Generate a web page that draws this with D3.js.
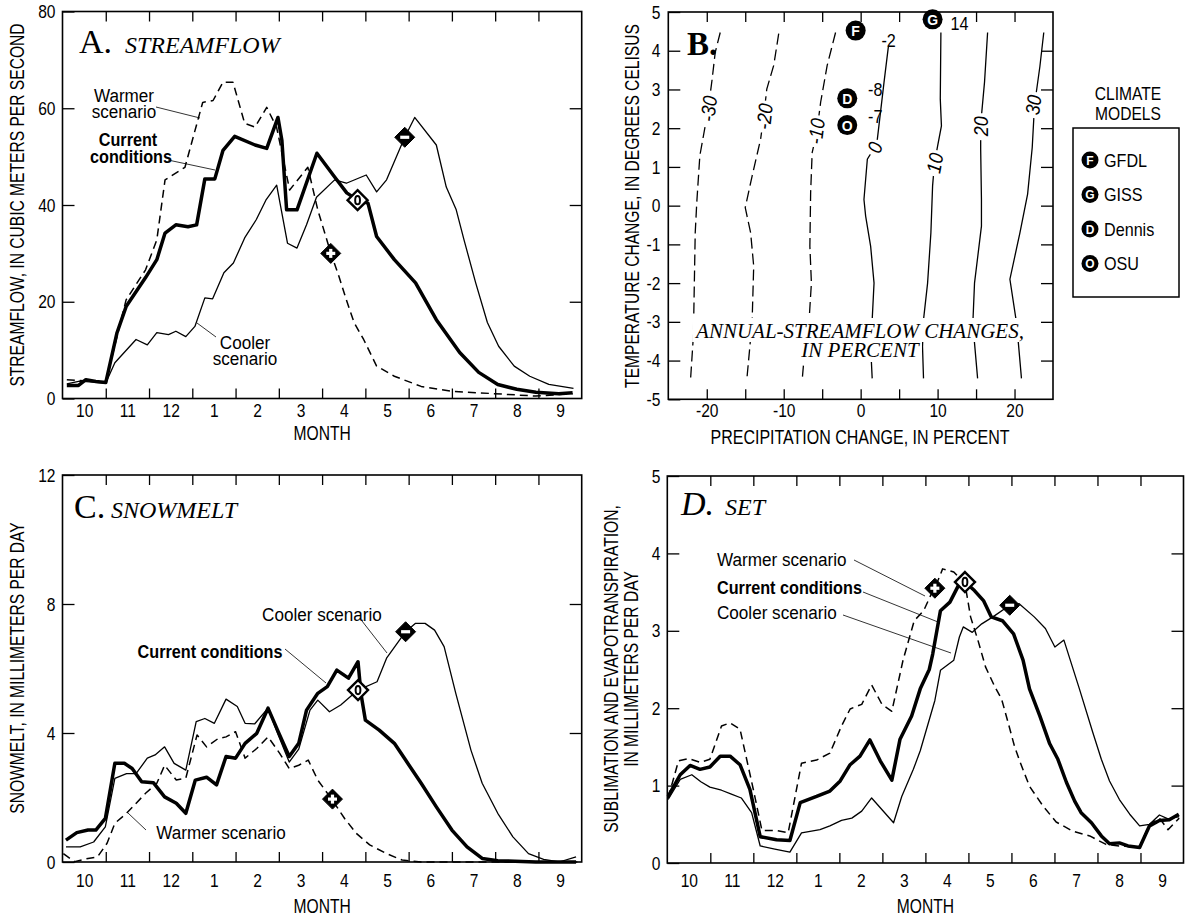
<!DOCTYPE html>
<html><head><meta charset="utf-8">
<script src="https://cdn.jsdelivr.net/npm/d3@7"></script>
<style>
body{margin:0;background:#fff}
svg{display:block;background:#fff}
</style></head><body>
<svg id="c" width="1185" height="916"></svg>
<script>
// ================= DATA =================
const monthLabels = ['10','11','12','1','2','3','4','5','6','7','8','9'];
const monthBounds = [1,2,3,4,5,6,7,8,9,10,11];
const monthCenters = [0.5,1.5,2.5,3.5,4.5,5.5,6.5,7.5,8.5,9.5,10.5,11.5];

// Panel A: streamflow (m3/s), [month from Oct 1, value]
const streamCurrent = [[0.1,2.7],[0.37,2.7],[0.54,3.9],[0.77,3.5],[1.0,3.3],[1.26,13.6],[1.47,19],[1.92,25],[2.18,28.7],[2.37,34.2],[2.62,35.9],[2.9,35.5],[3.1,35.9],[3.29,45.4],[3.52,45.4],[3.71,51.3],[3.98,54.2],[4.45,52.4],[4.72,51.7],[4.98,58.1],[5.07,53.4],[5.18,39],[5.42,39],[5.88,50.7],[6.29,45.8],[6.57,42.5],[6.82,41],[7.06,40.4],[7.26,33.5],[7.67,28.7],[8.16,23.9],[8.64,16.3],[9.18,9.5],[9.62,5.4],[10.06,2.9],[10.5,1.9],[10.94,1.3],[11.47,1.0],[11.79,1.2]];
const streamWarmer = [[0.1,3.9],[0.59,3.6],[1.0,3.4],[1.47,20.4],[1.92,26.6],[2.18,32.8],[2.37,45.2],[2.83,47.8],[3.24,61.2],[3.48,61.6],[3.71,65.4],[3.94,65.4],[4.21,56.9],[4.45,56.1],[4.72,60.2],[4.95,56],[5.25,43.1],[5.67,47.8],[5.9,39],[6.2,30.1],[6.39,25.2],[6.56,20.4],[6.74,15.7],[6.96,12.2],[7.26,6.7],[7.67,4.6],[8.29,2.5],[9.0,1.5],[9.97,1.0],[10.94,0.5],[11.79,1.0]];
const streamCooler = [[0.1,3.0],[0.4,3.6],[0.7,3.4],[1.0,3.2],[1.21,7.4],[1.7,12.2],[1.96,11.1],[2.18,13.6],[2.45,13.2],[2.62,13.9],[2.85,12.8],[3.06,14.9],[3.29,20.8],[3.47,20.6],[3.73,26],[3.95,28],[4.21,33.2],[4.48,37],[4.7,41],[4.95,44.1],[5.2,32.1],[5.42,31.1],[5.64,35.9],[5.87,41.6],[6.29,45.2],[6.56,44.5],[7.02,46.2],[7.26,42.7],[7.49,45.2],[7.91,54],[8.14,58.1],[8.64,52.4],[8.87,43.7],[9.1,39],[9.28,32.8],[9.55,23.9],[9.82,15.7],[10.08,10.8],[10.44,6.7],[10.8,4.6],[11.24,2.9],[11.81,2.1]];
const streamMarkers = [['-',7.91,54],['O',6.82,41],['+',6.2,30]];

// Panel C: snowmelt (mm/day)
const snowCurrent = [[0.08,0.68],[0.33,0.91],[0.59,0.99],[0.77,0.99],[0.99,1.35],[1.21,3.06],[1.43,3.06],[1.61,2.9],[1.83,2.49],[2.1,2.46],[2.36,2.02],[2.63,1.82],[2.85,1.51],[3.07,2.54],[3.33,2.63],[3.56,2.39],[3.78,3.27],[4.0,3.22],[4.22,3.68],[4.49,3.99],[4.75,4.77],[4.97,4.09],[5.24,3.27],[5.46,3.68],[5.64,4.71],[5.9,5.23],[6.12,5.44],[6.34,5.95],[6.61,5.7],[6.83,6.21],[6.9,5.2],[7.0,4.4],[7.32,4.09],[7.67,3.68],[7.93,3.16],[8.29,2.44],[8.64,1.71],[9.0,0.99],[9.35,0.47],[9.7,0.11],[10.06,0.04],[10.94,0.0],[11.87,0.0]];
const snowCooler = [[0.08,0.47],[0.41,0.47],[0.72,0.62],[0.99,1.09],[1.21,2.59],[1.48,2.74],[1.7,2.74],[1.96,3.22],[2.14,3.32],[2.36,3.57],[2.58,3.06],[2.85,2.85],[3.09,4.35],[3.29,4.45],[3.51,4.3],[3.78,5.05],[4.04,4.82],[4.22,4.3],[4.44,4.28],[4.75,4.77],[4.97,3.99],[5.24,3.1],[5.46,3.5],[5.72,4.71],[5.9,5.02],[6.17,4.66],[6.43,4.87],[6.83,5.33],[7.27,5.59],[7.49,6.32],[7.93,7.14],[8.16,7.4],[8.38,7.4],[8.6,7.19],[8.82,6.68],[9.09,5.23],[9.44,3.47],[9.7,2.44],[10.06,1.51],[10.41,0.78],[10.77,0.26],[11.12,0.08],[11.48,0.0],[11.87,0.16]];
const snowWarmer = [[0.02,0.26],[0.28,0.01],[0.59,0.11],[0.81,0.16],[1.03,0.58],[1.21,1.2],[1.48,1.51],[1.92,2.13],[2.18,2.44],[2.36,3.0],[2.63,2.54],[2.85,2.6],[3.11,3.94],[3.33,3.57],[3.6,3.83],[3.78,3.88],[4.0,4.04],[4.22,3.22],[4.49,3.52],[4.75,3.88],[5.02,3.37],[5.24,2.9],[5.46,3.0],[5.68,3.16],[5.9,2.54],[6.21,1.97],[6.52,1.35],[6.79,0.89],[7.1,0.53],[7.49,0.26],[7.85,0.06],[8.29,0.0],[11.9,0.0]];
const snowMarkers = [['+',6.24,1.95],['O',6.83,5.33],['-',7.93,7.14]];

// Panel D: sublimation + evapotranspiration (mm/day)
const setCurrent = [[0.02,0.86],[0.3,1.14],[0.53,1.26],[0.76,1.21],[0.99,1.24],[1.23,1.38],[1.46,1.38],[1.69,1.27],[1.92,0.95],[2.16,0.34],[2.54,0.3],[2.85,0.29],[3.09,0.78],[3.47,0.86],[3.78,0.93],[4.02,1.06],[4.25,1.27],[4.48,1.38],[4.71,1.59],[4.95,1.32],[5.22,1.07],[5.41,1.6],[5.68,1.9],[5.88,2.25],[6.09,2.5],[6.17,2.7],[6.35,3.26],[6.57,3.37],[6.79,3.61],[6.92,3.63],[7.14,3.52],[7.35,3.39],[7.53,3.18],[7.79,3.13],[8.05,2.96],[8.27,2.62],[8.42,2.25],[8.66,1.9],[8.89,1.54],[9.08,1.34],[9.28,1.04],[9.47,0.8],[9.62,0.65],[9.86,0.52],[10.09,0.35],[10.28,0.25],[10.51,0.26],[10.71,0.22],[10.98,0.2],[11.21,0.48],[11.44,0.55],[11.67,0.56],[11.89,0.63]];
const setWarmer = [[0.02,0.84],[0.26,1.32],[0.49,1.35],[0.76,1.3],[0.99,1.34],[1.26,1.77],[1.46,1.81],[1.69,1.73],[2.0,0.95],[2.2,0.42],[2.54,0.42],[2.81,0.39],[3.12,1.29],[3.47,1.33],[3.78,1.42],[4.05,1.77],[4.25,1.99],[4.52,2.05],[4.75,2.3],[4.99,2.05],[5.22,1.96],[5.48,2.62],[5.74,3.13],[5.96,3.26],[6.14,3.48],[6.22,3.55],[6.4,3.8],[6.66,3.76],[6.92,3.61],[7.05,3.18],[7.22,2.88],[7.4,2.53],[7.62,2.27],[7.77,2.12],[7.92,1.82],[8.07,1.51],[8.19,1.32],[8.42,0.99],[8.73,0.74],[9.04,0.53],[9.43,0.41],[9.82,0.35],[10.2,0.24],[10.51,0.22],[10.98,0.21],[11.21,0.5],[11.44,0.58],[11.64,0.43],[11.9,0.58]];
const setCooler = [[0.02,0.82],[0.3,1.08],[0.57,1.14],[0.78,1.05],[0.99,0.98],[1.26,0.94],[1.49,0.89],[1.72,0.84],[1.96,0.65],[2.16,0.22],[2.5,0.18],[2.85,0.14],[3.12,0.39],[3.55,0.43],[3.78,0.48],[4.05,0.55],[4.29,0.58],[4.52,0.67],[4.75,0.84],[5.26,0.52],[5.45,0.86],[5.72,1.21],[5.88,1.45],[6.22,2.1],[6.35,2.49],[6.66,2.62],[6.79,2.92],[6.88,3.05],[7.09,2.98],[7.31,3.09],[7.57,3.18],[7.96,3.33],[8.18,3.35],[8.53,3.18],[8.79,3.03],[9.01,2.79],[9.22,2.88],[9.58,2.25],[9.89,1.69],[10.09,1.34],[10.28,1.06],[10.51,0.82],[10.75,0.63],[10.98,0.48],[11.21,0.5],[11.44,0.62],[11.64,0.57],[11.9,0.6]];
const setMarkers = [['+',6.22,3.55],['O',6.92,3.63],['-',7.96,3.33]];

// Panel B: annual-streamflow change contours, [precip change %, temp change C]
const contourLevels = [-30,-20,-10,0,10,20,30];
const contourM30 = [[-18.25,4.47],[-18.9,3.96],[-19.3,3.27],[-19.8,2.5],[-20.9,1.29],[-21.3,0.08],[-21.5,-0.7],[-21.7,-2.95],[-21.8,-3.55],[-22.1,-4.46]];
const contourM20 = [[-10.65,4.44],[-11.3,3.62],[-12.2,3.01],[-12.6,2.3],[-13.0,1.72],[-14.1,0.77],[-15.0,-0.05],[-14.3,-0.7],[-13.9,-1.56],[-14.1,-2.95],[-14.4,-3.64],[-14.8,-4.5]];
const contourM10 = [[-3.26,4.47],[-4.35,3.62],[-5.2,2.67],[-5.7,1.9],[-6.3,1.37],[-6.5,0.34],[-6.6,-1.05],[-6.4,-2.0],[-6.7,-2.95],[-7.3,-3.81],[-7.6,-4.5]];
const contour0 = [[3.6,4.1],[3.04,3.19],[2.17,1.72],[1.8,1.5],[0.87,1.2],[0.43,0.16],[0.65,-0.27],[1.3,-1.05],[1.74,-2.0],[1.5,-2.95],[1.3,-3.64],[1.5,-4.46]];
const contour10 = [[10.43,4.47],[10.35,2.75],[10.5,2.06],[10.0,1.54],[9.6,1.1],[9.35,0.51],[9.13,-0.7],[8.7,-2.0],[8.17,-2.95],[8.04,-3.64],[8.17,-4.46]];
const contour20 = [[16.5,4.47],[16.1,3.19],[15.6,2.1],[15.6,1.46],[15.7,0.16],[15.7,-0.53],[14.8,-2.0],[14.6,-2.95],[14.8,-3.55],[15.2,-4.46]];
const contour30 = [[23.8,4.47],[23.3,3.6],[22.6,2.6],[22.3,1.5],[21.7,0.3],[20.7,-0.7],[19.4,-1.9],[20.2,-2.95],[20.5,-3.55],[20.9,-4.46]];
const contourLines = [contourM30,contourM20,contourM10,contour0,contour10,contour20,contour30];
const contourLabelAt = [[-19.75,2.5],[-12.5,2.3],[-5.75,1.92],[1.85,1.5],[9.65,1.1],[15.6,2.05],[22.45,2.6]];
const precipTicks = [-20,-15,-10,-5,0,5,10,15,20];
const tempTicks = [-5,-4,-3,-2,-1,0,1,2,3,4,5];

const modelLetters = ['F','G','D','O'];
const modelNames = ['GFDL','GISS','Dennis','OSU'];
const modelPrecip = [-0.65,9.35,-1.74,-1.74];
const modelTemp = [4.52,4.81,2.77,2.08];
const modelFlowChange = ['-2','14','-8','-7'];

// ================= DRAWING =================
const SANS = "'Liberation Sans', Arial, Helvetica, sans-serif";
const SERIF = "'Liberation Serif', 'Times New Roman', serif";
const svg = d3.select('#c');

function condense(sel, f){
  sel.each(function(){
    const w = this.getComputedTextLength();
    if (w > 0){ this.setAttribute('textLength', (w*f).toFixed(2)); this.setAttribute('lengthAdjust','spacingAndGlyphs'); }
  });
}
function styleAxis(s, fs){
  s.select('.domain').remove();
  s.attr('font-family', null).attr('font-size', null);
  s.selectAll('line').attr('stroke','#000').attr('stroke-width',1.3);
  s.selectAll('text').attr('font-family',SANS).attr('font-size',fs||19).attr('fill','#000');
  condense(s.selectAll('text'), 0.82);
}
function sText(g, str, x, y, o){
  o = o || {};
  const t = g.append('text').attr('x',x).attr('y',y).text(str)
    .attr('font-family', o.serif ? SERIF : SANS)
    .attr('font-size', o.fs || 19)
    .attr('font-weight', o.bold ? 'bold' : 'normal')
    .attr('font-style', o.italic ? 'italic' : 'normal')
    .attr('text-anchor', o.anchor || 'start')
    .attr('fill','#000');
  if (o.rot) t.attr('transform', `rotate(${o.rot},${x},${y})`);
  if (o.db) t.attr('dominant-baseline', o.db);
  if (o.cond) condense(t, o.cond);
  return t;
}
function leader(g, x1,y1,x2,y2){
  g.append('line').attr('x1',x1).attr('y1',y1).attr('x2',x2).attr('y2',y2).attr('stroke','#000').attr('stroke-width',0.8);
}

function timePanel(o){
  const g = svg.append('g');
  const x = d3.scaleLinear().domain([0,12]).range([o.x0,o.x1]);
  const y = d3.scaleLinear().domain([0,o.ymax]).range([o.y0,o.y1]);
  g.append('g').attr('transform',`translate(0,${o.y0})`)
    .call(d3.axisBottom(x).tickValues(monthBounds).tickSize(-10).tickFormat('')).call(s=>styleAxis(s));
  g.append('g').attr('transform',`translate(0,${o.y1})`)
    .call(d3.axisTop(x).tickValues(monthBounds).tickSize(-10).tickFormat('')).call(s=>styleAxis(s));
  g.append('g').attr('transform',`translate(0,${o.y0})`)
    .call(d3.axisBottom(x).tickValues(monthCenters).tickSize(0).tickPadding(o.labPad).tickFormat((d,i)=>monthLabels[i])).call(s=>styleAxis(s));
  g.append('g').attr('transform',`translate(${o.x0},0)`)
    .call(d3.axisLeft(y).tickValues(o.yticks).tickSize(-12).tickPadding(7).tickFormat(d=>String(d))).call(s=>styleAxis(s));
  g.append('g').attr('transform',`translate(${o.x1},0)`)
    .call(d3.axisRight(y).tickValues(o.yticks.slice(1,-1)).tickSize(-12).tickFormat('')).call(s=>styleAxis(s));
  g.append('rect').attr('x',o.x0).attr('y',o.y1).attr('width',o.x1-o.x0).attr('height',o.y0-o.y1)
    .attr('fill','none').attr('stroke','#000').attr('stroke-width',1.6);
  sText(g,'MONTH',(o.x0+o.x1)/2,o.monthY,{anchor:'middle',fs:20,cond:0.78});
  return {g,x,y};
}
function series(p, data, kind){
  const line = d3.line().x(d=>p.x(d[0])).y(d=>p.y(d[1]));
  p.g.append('path').datum(data).attr('d',line).attr('fill','none').attr('stroke','#000')
    .attr('stroke-width', kind==='current'?3.5:(kind==='cooler'?1.3:1.5))
    .attr('stroke-dasharray', kind==='warmer'?'8,5':null)
    .attr('stroke-linejoin','round');
}
function marker(g, cx, cy, type){
  const s = 10;
  const m = g.append('g').attr('transform',`translate(${cx},${cy})`);
  const d = `M0,${-s}L${s},0L0,${s}L${-s},0Z`;
  if (type === 'O'){
    m.append('path').attr('d',d).attr('fill','#fff').attr('stroke','#000').attr('stroke-width',2.4);
    m.append('ellipse').attr('rx',2.4).attr('ry',4.2).attr('fill','none').attr('stroke','#000').attr('stroke-width',2);
  } else {
    m.append('path').attr('d',d).attr('fill','#000').attr('stroke','#000').attr('stroke-width',1);
    m.append('rect').attr('x',-4.5).attr('y',-1.6).attr('width',9).attr('height',3.2).attr('fill','#fff');
    if (type === '+') m.append('rect').attr('x',-1.6).attr('y',-4.5).attr('width',3.2).attr('height',9).attr('fill','#fff');
  }
}
function markers(p, list){ list.forEach(d=>marker(p.g, p.x(d[1]), p.y(d[2]), d[0])); }

// ---------- Panel A ----------
const pA = timePanel({x0:62.5,x1:581.7,y0:398.5,y1:11.5,ymax:80,yticks:[0,20,40,60,80],labPad:5,monthY:440});
series(pA, streamCooler, 'cooler');
series(pA, streamWarmer, 'warmer');
series(pA, streamCurrent, 'current');
markers(pA, streamMarkers);
sText(pA.g,'STREAMFLOW, IN CUBIC METERS PER SECOND',17,205,{rot:-90,anchor:'middle',db:'central',fs:20,cond:0.78});
sText(pA.g,'A.',79,53,{serif:true,fs:34});
sText(pA.g,'STREAMFLOW',125,53,{serif:true,italic:true,fs:24});
sText(pA.g,'Warmer',124,102,{anchor:'middle',fs:18,cond:0.95});
sText(pA.g,'scenario',124,118,{anchor:'middle',fs:18,cond:0.95});
leader(pA.g,156,107,200,118);
sText(pA.g,'Current',128,146,{anchor:'middle',fs:18,bold:true,cond:0.9});
sText(pA.g,'conditions',131,163,{anchor:'middle',fs:18,bold:true,cond:0.9});
leader(pA.g,168,160,215,170);
sText(pA.g,'Cooler',245,349,{anchor:'middle',fs:18,cond:0.95});
sText(pA.g,'scenario',245,365,{anchor:'middle',fs:18,cond:0.95});
leader(pA.g,216,337,197,323);

// ---------- Panel C ----------
const pC = timePanel({x0:62.5,x1:581.7,y0:862,y1:475,ymax:12,yticks:[0,4,8,12],labPad:11.5,monthY:913});
series(pC, snowCooler, 'cooler');
series(pC, snowWarmer, 'warmer');
series(pC, snowCurrent, 'current');
markers(pC, snowMarkers);
sText(pC.g,'SNOWMELT, IN MILLIMETERS PER DAY',17,668,{rot:-90,anchor:'middle',db:'central',fs:20,cond:0.78});
sText(pC.g,'C.',74,518,{serif:true,fs:34});
sText(pC.g,'SNOWMELT',111,518,{serif:true,italic:true,fs:24});
sText(pC.g,'Cooler scenario',322,621,{anchor:'middle',fs:18,cond:0.95});
leader(pC.g,362,621,387,653);
sText(pC.g,'Current conditions',210,658,{anchor:'middle',fs:18,bold:true,cond:0.9});
leader(pC.g,285,649,326,683);
sText(pC.g,'Warmer scenario',221,839,{anchor:'middle',fs:18,cond:0.95});
leader(pC.g,146,830,128,813);

// ---------- Panel D ----------
const pD = timePanel({x0:667.3,x1:1183.5,y0:863,y1:476,ymax:5,yticks:[0,1,2,3,4,5],labPad:11,monthY:913});
series(pD, setCooler, 'cooler');
series(pD, setWarmer, 'warmer');
series(pD, setCurrent, 'current');
markers(pD, setMarkers);
sText(pD.g,'SUBLIMATION AND EVAPOTRANSPIRATION,',611,669,{rot:-90,anchor:'middle',db:'central',fs:20,cond:0.78});
sText(pD.g,'IN MILLIMETERS PER DAY',631,669,{rot:-90,anchor:'middle',db:'central',fs:20,cond:0.78});
sText(pD.g,'D.',681,515,{serif:true,italic:true,fs:34});
sText(pD.g,'SET',725,515,{serif:true,italic:true,fs:24});
sText(pD.g,'Warmer scenario',717,566,{fs:18,cond:0.95});
leader(pD.g,854,560,925,596);
sText(pD.g,'Current conditions',717,594,{fs:18,bold:true,cond:0.9});
leader(pD.g,863,592,938,622);
sText(pD.g,'Cooler scenario',717,619,{fs:18,cond:0.95});
leader(pD.g,843,615,951,653);

// ---------- Panel B ----------
const gB = svg.append('g');
const B = {x0:668.3,x1:1053,y0:399.3,y1:12};
const xb = d3.scaleLinear().domain([-25,25]).range([B.x0,B.x1]);
const yb = d3.scaleLinear().domain([-5,5]).range([B.y0,B.y1]);
gB.append('g').attr('transform',`translate(0,${B.y0})`)
  .call(d3.axisBottom(xb).tickValues(precipTicks).tickSize(-10).tickPadding(4).tickFormat(d=>d%10===0?String(d):'')).call(s=>styleAxis(s));
gB.append('g').attr('transform',`translate(0,${B.y1})`)
  .call(d3.axisTop(xb).tickValues(precipTicks).tickSize(-10).tickFormat('')).call(s=>styleAxis(s));
gB.append('g').attr('transform',`translate(${B.x0},0)`)
  .call(d3.axisLeft(yb).tickValues(tempTicks).tickSize(-12).tickPadding(8).tickFormat(d=>String(d))).call(s=>styleAxis(s));
gB.append('g').attr('transform',`translate(${B.x1},0)`)
  .call(d3.axisRight(yb).tickValues(tempTicks.slice(1,-1)).tickSize(-12).tickFormat('')).call(s=>styleAxis(s));

const lineB = d3.line().x(d=>xb(d[0])).y(d=>yb(d[1]));
contourLines.forEach((pts,i)=>{
  gB.append('path').datum(pts).attr('d',lineB).attr('fill','none').attr('stroke','#000')
    .attr('stroke-width',1.3).attr('stroke-dasharray', contourLevels[i]<0 ? '11,5' : null);
});
// contour labels (line broken under the label)
contourLevels.forEach((lev,i)=>{
  const pts = contourLines[i], at = contourLabelAt[i];
  let k = 0; while (k < pts.length-2 && pts[k+1][1] > at[1]) k++;
  const top = pts[k], bot = pts[k+1];
  const ang = Math.atan2(yb(top[1])-yb(bot[1]), xb(top[0])-xb(bot[0]))*180/Math.PI;
  const lg = gB.append('g').attr('transform',`translate(${xb(at[0])},${yb(at[1])}) rotate(${ang})`);
  const bg = lg.append('rect').attr('fill','#fff');
  const t = lg.append('text').text(String(lev)).attr('font-family',SANS).attr('font-style','italic')
    .attr('font-size',20).attr('text-anchor','middle').attr('dominant-baseline','central').attr('fill','#000');
  condense(t,0.9);
  const bb = t.node().getBBox();
  bg.attr('x',bb.x-3).attr('y',bb.y+2).attr('width',bb.width+6).attr('height',bb.height-4);
});
// inner caption
const cap1 = sText(gB,'ANNUAL-STREAMFLOW CHANGES,',860,338,{serif:true,italic:true,fs:21,anchor:'middle'});
const cap2 = sText(gB,'IN PERCENT',860,357,{serif:true,italic:true,fs:21,anchor:'middle'});
[cap1,cap2].forEach(c=>{
  const bb = c.node().getBBox();
  gB.insert('rect',()=>c.node()).attr('x',bb.x-2).attr('y',bb.y+(c===cap1?-1:4)).attr('width',bb.width+4).attr('height',bb.height-(c===cap1?0:4)).attr('fill','#fff');
});
gB.append('rect').attr('x',B.x0).attr('y',B.y1).attr('width',B.x1-B.x0).attr('height',B.y0-B.y1)
  .attr('fill','none').attr('stroke','#000').attr('stroke-width',1.6);
sText(gB,'B.',687,55,{serif:true,bold:true,fs:33});
sText(gB,'TEMPERATURE CHANGE, IN DEGREES CELISUS',631.5,206,{rot:-90,anchor:'middle',db:'central',fs:20,cond:0.78});
sText(gB,'PRECIPITATION CHANGE, IN PERCENT',860,444,{anchor:'middle',fs:20,cond:0.8});

// climate model points
const valOffset = [[33,10],[27,4],[28,-9],[28,-9]];
modelLetters.forEach((L,i)=>{
  const cx = xb(modelPrecip[i]), cy = yb(modelTemp[i]);
  gB.append('circle').attr('cx',cx).attr('cy',cy).attr('r',10).attr('fill','#000');
  sText(gB,L,cx,cy+0.5,{anchor:'middle',db:'central',fs:14,bold:true}).attr('fill','#fff');
  sText(gB,modelFlowChange[i],cx+valOffset[i][0],cy+valOffset[i][1],{anchor:'middle',db:'central',fs:19,cond:0.85});
});

// legend
const gL = svg.append('g');
sText(gL,'CLIMATE',1128,100,{anchor:'middle',fs:19,cond:0.82});
sText(gL,'MODELS',1128,120,{anchor:'middle',fs:19,cond:0.82});
gL.append('rect').attr('x',1073).attr('y',128).attr('width',106).attr('height',169).attr('fill','none').attr('stroke','#000').attr('stroke-width',1.5);
modelLetters.forEach((L,i)=>{
  const cy = 160 + i*34.5;
  gL.append('circle').attr('cx',1090).attr('cy',cy).attr('r',8.5).attr('fill','#000');
  sText(gL,L,1090,cy+0.5,{anchor:'middle',db:'central',fs:12,bold:true}).attr('fill','#fff');
  sText(gL,modelNames[i],1104,cy,{db:'central',fs:19,cond:0.85});
});
</script>
</body></html>
